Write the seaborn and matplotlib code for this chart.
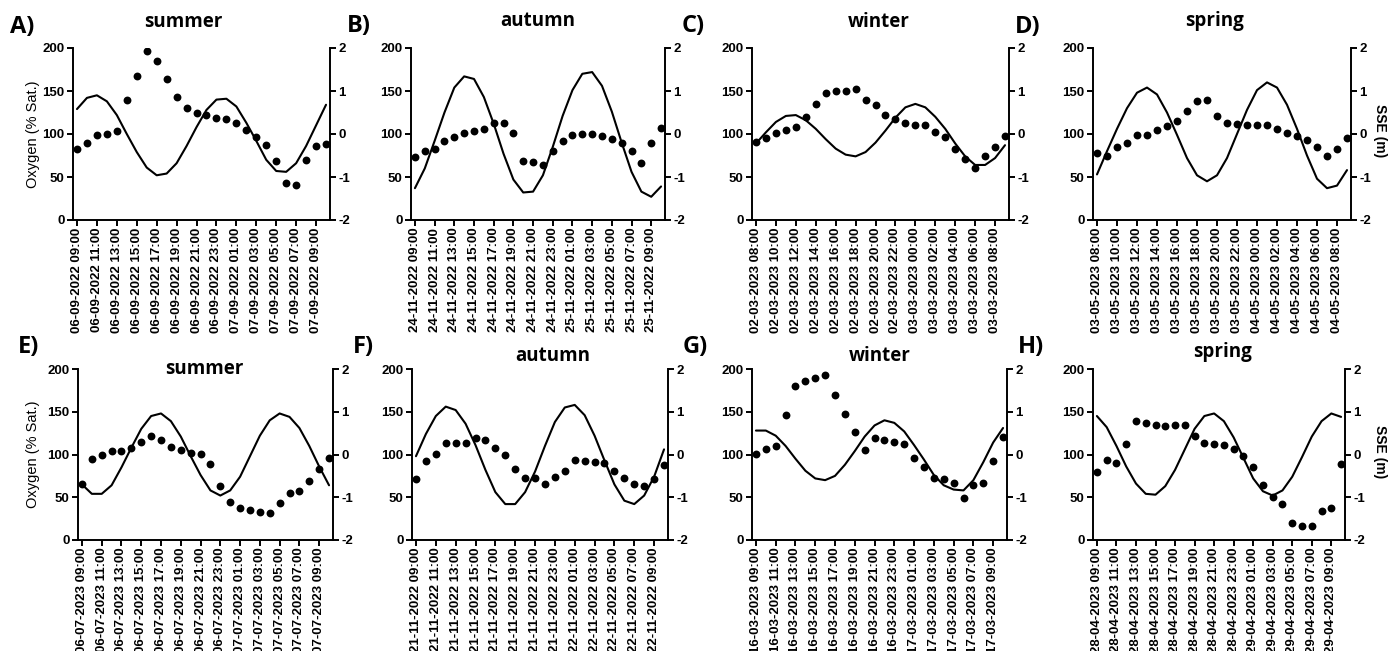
#!/usr/bin/env python3
"""
Diel oxygen saturation vs sea surface elevation, eight sampling campaigns
"""

import pandas as pd
import matplotlib
matplotlib.use("Agg")
import matplotlib.pyplot as plt
import seaborn as sns

# panel letters, seasons and first timestamp of each 26-hour campaign
panels = ["A", "B", "C", "D", "E", "F", "G", "H"]
seasons = ["summer", "autumn", "winter", "spring", "summer", "autumn", "winter", "spring"]
starts = ["06-09-2022 09:00", "24-11-2022 09:00", "02-03-2023 08:00", "03-05-2023 08:00",
          "06-07-2023 09:00", "21-11-2022 09:00", "16-03-2023 09:00", "28-04-2023 09:00"]

# oxygen (% saturation), hourly
oxy_a = [82, 90, 99, 100, 104, 140, 167, 197, 185, 164, 143, 130, 125,
         122, 119, 117, 113, 105, 97, 87, 69, 43, 41, 70, 86, 88]
oxy_b = [73, 80, 83, 92, 97, 101, 103, 106, 113, 113, 101, 69, 67,
         64, 80, 92, 99, 100, 100, 98, 94, 89, 80, 66, 90, 107]
oxy_c = [91, 95, 101, 105, 108, 120, 135, 148, 150, 150, 152, 140, 134,
         122, 117, 113, 111, 110, 102, 97, 83, 71, 61, 74, 85, 98]
oxy_d = [78, 74, 85, 90, 99, 99, 105, 109, 115, 127, 138, 140, 121,
         113, 112, 111, 110, 110, 106, 101, 98, 93, 85, 74, 82, 95]
oxy_e = [66, 95, 99, 104, 104, 108, 115, 122, 117, 109, 105, 102, 101,
         89, 63, 44, 38, 35, 33, 32, 43, 55, 57, 69, 83, 96]
oxy_f = [71, 92, 101, 113, 113, 113, 119, 117, 108, 99, 83, 72, 73,
         66, 74, 81, 94, 92, 91, 90, 81, 73, 66, 63, 71, 88]
oxy_g = [101, 106, 110, 146, 180, 186, 190, 193, 170, 147, 126, 105, 119,
         117, 115, 112, 96, 85, 72, 71, 67, 49, 64, 67, 92, 120]
oxy_h = [80, 94, 90, 112, 139, 137, 135, 133, 134, 134, 122, 113, 112,
         111, 106, 98, 85, 64, 50, 42, 20, 16, 16, 34, 37, 89]

# sea surface elevation (m), hourly
sse_a = [0.58, 0.84, 0.90, 0.76, 0.44, 0.00, -0.42, -0.78, -0.96, -0.92, -0.68, -0.28, 0.16,
         0.56, 0.80, 0.82, 0.64, 0.26, -0.16, -0.60, -0.86, -0.88, -0.68, -0.28, 0.20, 0.68]
sse_b = [-1.26, -0.80, -0.16, 0.50, 1.08, 1.34, 1.28, 0.86, 0.24, -0.46, -1.06, -1.36, -1.34,
         -0.96, -0.30, 0.42, 1.02, 1.40, 1.44, 1.12, 0.52, -0.20, -0.88, -1.34, -1.46, -1.22]
sse_c = [-0.22, 0.04, 0.28, 0.42, 0.44, 0.32, 0.12, -0.12, -0.34, -0.48, -0.52, -0.42, -0.20,
         0.08, 0.38, 0.62, 0.70, 0.62, 0.40, 0.12, -0.22, -0.52, -0.72, -0.72, -0.56, -0.26]
sse_d = [-0.94, -0.40, 0.12, 0.60, 0.96, 1.08, 0.92, 0.50, -0.02, -0.56, -0.96, -1.10, -0.96,
         -0.56, 0.00, 0.56, 1.02, 1.20, 1.08, 0.68, 0.12, -0.50, -1.04, -1.26, -1.20, -0.84]
sse_e = [-0.70, -0.92, -0.92, -0.72, -0.30, 0.16, 0.60, 0.90, 0.96, 0.78, 0.42, -0.04, -0.48,
         -0.84, -0.96, -0.84, -0.52, -0.04, 0.44, 0.80, 0.96, 0.88, 0.62, 0.20, -0.28, -0.72]
sse_f = [-0.04, 0.48, 0.90, 1.12, 1.04, 0.72, 0.22, -0.36, -0.88, -1.16, -1.16, -0.88, -0.40,
         0.20, 0.76, 1.10, 1.16, 0.92, 0.44, -0.14, -0.70, -1.08, -1.16, -0.96, -0.52, 0.12]
sse_g = [0.56, 0.56, 0.44, 0.20, -0.10, -0.38, -0.56, -0.60, -0.50, -0.24, 0.08, 0.42, 0.68,
         0.80, 0.74, 0.54, 0.22, -0.12, -0.48, -0.72, -0.82, -0.84, -0.60, -0.18, 0.28, 0.62]
sse_h = [0.90, 0.64, 0.20, -0.28, -0.68, -0.92, -0.94, -0.74, -0.36, 0.12, 0.60, 0.90, 0.96,
         0.78, 0.40, -0.08, -0.56, -0.86, -0.96, -0.84, -0.52, -0.06, 0.42, 0.78, 0.96, 0.88]

oxygen = [oxy_a, oxy_b, oxy_c, oxy_d, oxy_e, oxy_f, oxy_g, oxy_h]
sse = [sse_a, sse_b, sse_c, sse_d, sse_e, sse_f, sse_g, sse_h]

# layout in pixels (figure is 1397 x 651)
W, H = 1397, 651
ax_lr = [(73, 330), (411, 665), (752, 1009), (1093, 1351),
         (78, 333), (412, 668), (752, 1007), (1093, 1345)]
row_tb = [(48, 220), (369, 540)]
title_xy = [(183, 27), (538, 26), (879, 27), (1214, 26),
            (204, 374), (553, 361), (880, 361), (1222, 357)]
letter_xy = [(10, 33), (347, 32), (682, 32), (1015, 33),
             (18, 353), (353, 353), (683, 353), (1018, 353)]

sns.set_style("ticks", {"text.color": "black", "axes.labelcolor": "black",
                        "xtick.color": "black", "ytick.color": "black",
                        "axes.edgecolor": "black"})
plt.rcParams['font.family'] = ['Liberation Sans', 'DejaVu Sans']
plt.rcParams['axes.linewidth'] = 1.4

fig = plt.figure(figsize=(W / 100, H / 100), dpi=100)


def px(x, y):
    return x / W, 1 - y / H


for i in range(8):
    l, r = ax_lr[i]
    t, b = row_tb[i // 4]
    ax = fig.add_axes([l / W, 1 - b / H, (r - l) / W, (b - t) / H])
    ax2 = ax.twinx()

    n = len(oxygen[i])
    hours = list(range(n))
    df = pd.DataFrame({"hour": hours, "oxygen": oxygen[i], "sse": sse[i]})

    sns.lineplot(data=df, x="hour", y="sse", ax=ax2, color="black", linewidth=1.5)
    sns.scatterplot(data=df, x="hour", y="oxygen", ax=ax, color="black",
                    s=32, linewidth=0, zorder=5)
    ax.set_zorder(ax2.get_zorder() + 1)
    ax.patch.set_visible(False)

    ax.set_xlim(-0.4, n - 1 + 0.4)
    ax.set_ylim(0, 200)
    ax2.set_ylim(-2, 2)
    ax.set_yticks([0, 50, 100, 150, 200])
    ax2.set_yticks([-2, -1, 0, 1, 2])
    ax2.set_yticklabels(["-2", "-1", "0", "1", "2"])

    labels = pd.date_range(pd.to_datetime(starts[i], format="%d-%m-%Y %H:%M"),
                           periods=13, freq="2h").strftime("%d-%m-%Y %H:%M")
    ax.set_xticks(hours[::2][:13])
    ax.set_xticklabels(labels, rotation=90)

    for a in (ax, ax2):
        a.set_xlabel("")
        a.set_ylabel("")
        a.spines['top'].set_visible(False)
        a.tick_params(width=1.4, length=4, pad=2)
        for lab in a.get_yticklabels():
            lab.set_fontsize(9.5)
            lab.set_fontweight('bold')
        for lab in a.get_xticklabels():
            lab.set_fontsize(9.5)
            lab.set_fontweight('bold')
    ax.tick_params(axis='x', pad=1.5)
    ax.spines['right'].set_visible(False)
    ax2.spines['left'].set_visible(False)
    ax2.spines['bottom'].set_visible(False)

    tx, ty = title_xy[i]
    fig.text(*px(tx, ty), seasons[i], ha='center', va='baseline',
             fontsize=13.5, fontweight='bold', family='Open Sans')
    lx, ly = letter_xy[i]
    fig.text(*px(lx, ly), panels[i] + ")", ha='left', va='baseline',
             fontsize=17, fontweight='bold', family='Open Sans')

    if i % 4 == 0:
        fig.text(*px(33, (t + b) / 2), "Oxygen (% Sat.)", rotation=90,
                 ha='center', va='center', fontsize=10.5)
    if i % 4 == 3:
        fig.text(*px(1380, (t + b) / 2 - 3), "SSE (m)", rotation=270,
                 ha='center', va='center', fontsize=10, fontweight='bold')

fig.savefig("out.png", dpi=100)
